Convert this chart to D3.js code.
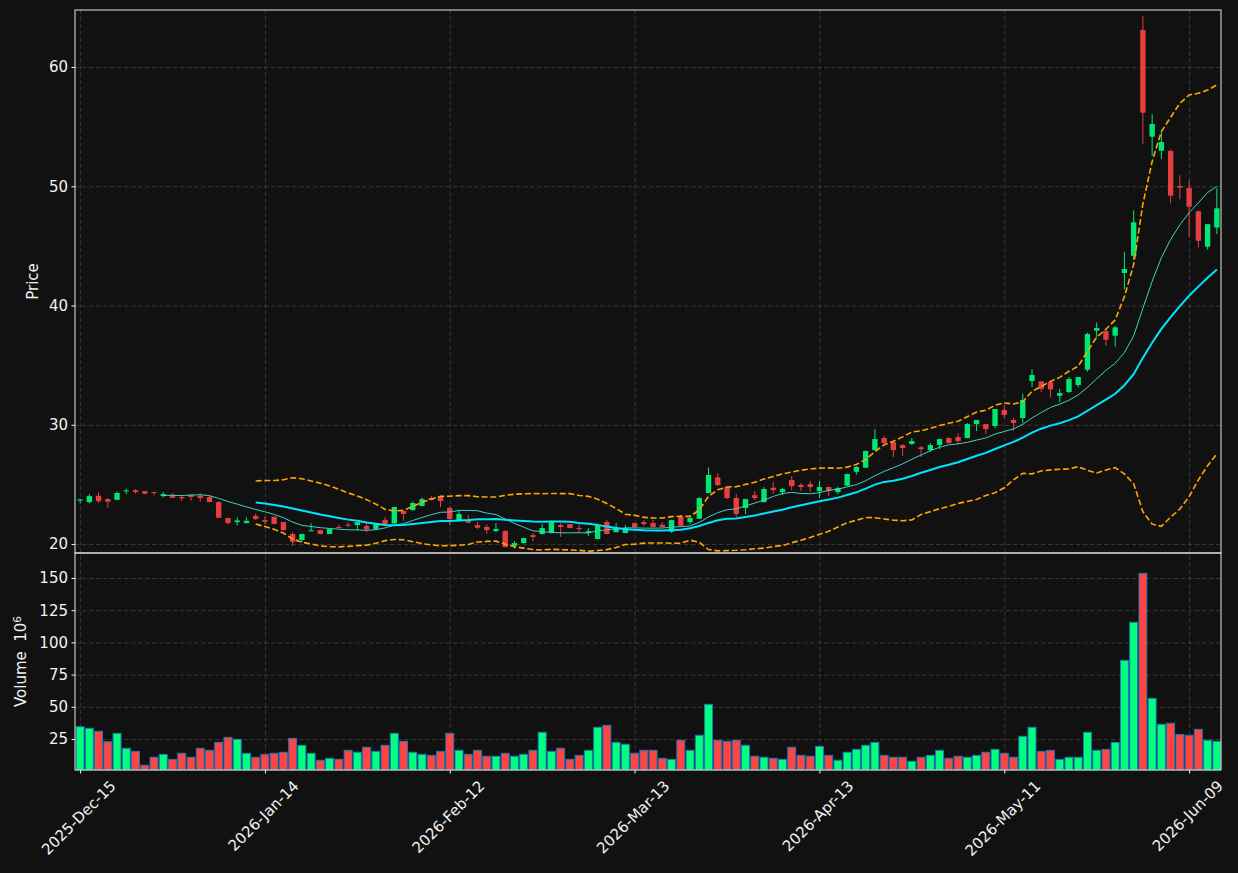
<!DOCTYPE html>
<html>
<head>
<meta charset="utf-8">
<script src="https://cdn.jsdelivr.net/npm/d3@7"></script>
<style>
  html, body { margin: 0; padding: 0; background: #111111; }
  svg { display: block; font-family: "DejaVu Sans", sans-serif; }
</style>
</head>
<body>
<svg id="chart" width="1238" height="873"></svg>
<script>
// daily bars (index 0 = 2025-Dec-15)
const opens = [23.68, 23.52, 24.05, 23.77, 23.71, 24.45, 24.52, 24.44, 24.36, 24.02, 24.13, 23.94, 24.13, 24.05, 23.94, 23.52, 22.18, 21.84, 21.76, 22.35,
  22.01, 22.29, 21.84, 20.84, 20.34, 21.1, 21.17, 20.84, 21.43, 21.62, 21.59, 21.51, 21.23, 22.01, 21.73, 22.77, 22.85, 23.19, 23.86, 24.02,
  23.02, 22.0, 22.01, 21.59, 21.43, 21.09, 21.09, 19.86, 20.08, 20.75, 20.84, 20.92, 21.59, 21.68, 21.34, 20.94, 20.42, 21.84, 21.0, 20.92,
  21.76, 21.84, 21.76, 21.62, 21.03, 22.26, 21.84, 22.12, 24.28, 25.59, 24.78, 23.86, 23.02, 24.1, 23.52, 24.72, 24.36, 25.37, 24.95, 25.03,
  24.44, 24.78, 24.36, 24.9, 26.06, 26.4, 27.88, 28.89, 28.55, 28.3, 28.39, 28.11, 27.88, 28.3, 28.89, 28.97, 28.89, 30.06, 30.06, 29.9,
  31.24, 30.4, 30.57, 33.67, 33.64, 33.58, 32.43, 32.75, 33.33, 34.62, 37.89, 37.86, 37.47, 42.73, 44.17, 63.1, 54.16, 52.98, 52.96, 50.02,
  49.85, 47.9, 44.93, 46.54]
const highs = [23.8, 24.19, 24.33, 23.86, 24.42, 24.64, 24.61, 24.46, 24.38, 24.36, 24.25, 24.1, 24.14, 24.25, 24.05, 23.6, 22.2, 22.24, 22.24, 22.54,
  22.29, 22.32, 21.86, 21.0, 20.86, 21.73, 21.2, 21.28, 21.62, 21.82, 21.86, 21.73, 21.78, 22.29, 23.12, 22.79, 23.58, 23.91, 24.05, 24.1,
  23.19, 22.85, 22.44, 21.84, 21.65, 21.76, 21.17, 20.25, 20.52, 20.92, 21.68, 21.95, 21.76, 21.7, 21.76, 21.34, 21.62, 22.01, 21.76, 21.59,
  21.78, 22.01, 22.01, 21.84, 22.03, 22.46, 22.43, 23.94, 26.43, 25.93, 24.8, 24.19, 23.79, 24.44, 24.78, 25.2, 24.7, 25.7, 25.12, 25.28,
  25.28, 24.8, 24.8, 25.9, 26.54, 27.87, 29.64, 29.06, 28.57, 28.39, 28.89, 28.22, 28.47, 28.82, 28.97, 29.3, 30.14, 30.42, 30.08, 31.34,
  31.66, 30.57, 32.58, 34.67, 33.66, 33.6, 33.02, 34.0, 34.02, 37.72, 38.59, 38.0, 38.28, 44.51, 47.98, 64.28, 56.03, 54.55, 53.1, 50.92,
  50.5, 47.99, 46.84, 49.83]
const lows = [23.42, 23.41, 23.44, 23.05, 23.69, 24.17, 24.22, 24.2, 24.1, 23.91, 23.85, 23.63, 23.63, 23.55, 23.5, 22.18, 21.62, 21.54, 21.72, 22.01,
  21.68, 21.65, 21.1, 19.83, 20.15, 21.07, 20.82, 20.82, 21.3, 21.4, 21.12, 21.0, 21.2, 21.59, 21.7, 21.95, 22.79, 23.17, 23.67, 23.08,
  21.59, 21.95, 21.76, 21.28, 20.86, 21.0, 19.73, 19.6, 20.05, 20.23, 20.82, 20.9, 20.59, 21.32, 20.92, 20.67, 20.4, 20.82, 20.98, 20.9,
  21.4, 21.51, 21.4, 21.4, 20.95, 21.5, 21.68, 22.1, 24.26, 24.86, 23.78, 22.26, 22.52, 23.69, 23.5, 24.19, 24.1, 24.53, 24.44, 24.36,
  23.86, 24.02, 24.19, 24.85, 25.81, 26.38, 27.86, 28.39, 27.3, 27.38, 28.3, 27.3, 27.72, 27.96, 28.39, 28.39, 28.87, 29.48, 29.22, 29.72,
  30.57, 29.48, 30.15, 33.17, 32.72, 32.3, 31.88, 32.66, 33.14, 34.45, 37.33, 36.63, 36.55, 41.36, 43.81, 53.52, 52.56, 52.31, 48.57, 48.9,
  45.77, 44.87, 44.7, 45.99]
const closes = [23.74, 24.02, 23.6, 23.55, 24.28, 24.5, 24.36, 24.22, 24.29, 24.19, 23.88, 23.84, 23.94, 23.86, 23.52, 22.2, 21.76, 21.98, 21.95, 22.1,
  21.87, 21.68, 21.17, 20.19, 20.84, 21.15, 20.84, 21.26, 21.37, 21.56, 21.84, 21.23, 21.76, 21.68, 23.1, 22.52, 23.44, 23.77, 23.69, 23.6,
  22.1, 22.52, 21.79, 21.37, 21.17, 21.26, 19.75, 20.08, 20.5, 20.59, 21.34, 21.93, 21.43, 21.34, 21.27, 21.09, 21.59, 20.84, 21.34, 21.34,
  21.43, 21.68, 21.43, 21.43, 22.01, 21.54, 22.18, 23.86, 25.79, 24.95, 23.86, 22.52, 23.77, 23.86, 24.61, 24.53, 24.61, 24.86, 24.78, 24.78,
  24.78, 24.44, 24.7, 25.87, 26.46, 27.8, 28.8, 28.47, 27.88, 28.05, 28.64, 27.96, 28.3, 28.8, 28.47, 28.64, 30.06, 30.4, 29.64, 31.32,
  30.82, 30.15, 32.08, 34.17, 33.0, 32.97, 32.66, 33.84, 34.0, 37.61, 38.11, 37.13, 38.17, 43.06, 46.98, 56.17, 55.22, 53.71, 49.21, 49.9,
  48.29, 45.43, 46.82, 48.15]
// volume in millions
const volumes = [34.5, 33.3, 31.0, 22.9, 29.4, 17.8, 15.4, 4.6, 10.8, 13.1, 9.2, 13.9, 10.8, 17.8, 16.2, 22.4, 26.3, 24.8, 13.9, 10.8,
  13.1, 13.9, 14.7, 25.5, 20.1, 13.9, 8.5, 10.0, 9.2, 16.2, 14.7, 18.6, 15.4, 20.1, 29.4, 23.2, 14.7, 13.1, 12.3, 15.4,
  29.4, 16.2, 13.1, 16.2, 11.6, 11.6, 13.9, 11.6, 13.1, 16.2, 30.2, 15.4, 17.8, 9.2, 12.3, 16.2, 34.1, 35.6, 22.4, 20.9,
  13.9, 16.2, 16.2, 10.0, 9.2, 24.0, 16.2, 27.9, 51.9, 24.0, 23.2, 24.0, 20.1, 11.6, 10.8, 10.0, 9.2, 18.6, 12.3, 11.6,
  19.3, 12.3, 8.5, 14.7, 17.0, 20.1, 22.4, 12.3, 10.8, 10.8, 7.7, 10.8, 12.3, 16.2, 10.0, 11.6, 10.8, 12.3, 14.7, 17.0,
  13.9, 10.8, 27.1, 34.1, 15.4, 16.2, 9.2, 10.8, 10.8, 30.2, 16.2, 17.0, 22.4, 86.1, 115.6, 153.6, 56.6, 36.4, 37.2, 28.6,
  27.9, 32.5, 24.0, 23.2]

const tickIdx = [0, 20, 40, 60, 80, 100, 120]
const tickLabels = ["2025-Dec-15", "2026-Jan-14", "2026-Feb-12", "2026-Mar-13", "2026-Apr-13", "2026-May-11", "2026-Jun-09"]
const priceTicks = [20, 30, 40, 50, 60]
const volTicks = [25, 50, 75, 100, 125, 150]

const bars = closes.map((c, i) => ({ i, o: opens[i], h: highs[i], l: lows[i], c, v: volumes[i] }))

// moving averages / bollinger (20, 2) from the closes
const rolling = (n) =>
  closes
    .map((d, i) => {
      if (i < n - 1) return null
      const win = closes.slice(i - n + 1, i + 1)
      const m = d3.mean(win)
      const sd = Math.sqrt(d3.mean(win, (v) => (v - m) ** 2))
      return { i, m, sd }
    })
    .filter(Boolean)
const ma10 = rolling(10)
const ma20 = rolling(20)

const svg = d3.select("#chart")
const left = 75, right = 1221, pTop = 10, pBot = 553, vTop = 553, vBot = 770
const UP = "#00ff7f", DOWN = "#ff4444", TXT = "#f2f2f2"
const FS = "15px"

svg.append("rect").attr("width", 1238).attr("height", 873).attr("fill", "#111111")

// scaling
const x = d3.scaleLinear().domain([-0.55, 123.45]).range([left, right])
const yP = d3.scaleLinear().domain([19.25, 64.78]).range([pBot, pTop])
const yV = d3.scaleLinear().domain([0.93, 169.4]).range([vBot, vTop])
const step = x(1) - x(0)

// grid
const gridStyle = (g) => {
  g.select(".domain").remove()
  g.selectAll("text").remove()
  g.selectAll("line").attr("stroke", "#3c3c3c").attr("stroke-width", 0.9).attr("stroke-dasharray", "4.5,2.5")
}
svg.append("g").attr("transform", `translate(${left},0)`).call(d3.axisLeft(yP).tickValues(priceTicks).tickSize(-(right - left))).call(gridStyle)
svg.append("g").attr("transform", `translate(${left},0)`).call(d3.axisLeft(yV).tickValues(volTicks).tickSize(-(right - left))).call(gridStyle)
svg.append("g").attr("transform", `translate(0,${pBot})`).call(d3.axisBottom(x).tickValues(tickIdx).tickSize(-(pBot - pTop))).call(gridStyle)
svg.append("g").attr("transform", `translate(0,${vBot})`).call(d3.axisBottom(x).tickValues(tickIdx).tickSize(-(vBot - vTop))).call(gridStyle)

// volume
svg
  .append("g")
  .selectAll("rect")
  .data(bars)
  .enter()
  .append("rect")
  .attr("x", (d) => x(d.i) - step * 0.43)
  .attr("width", step * 0.86)
  .attr("y", (d) => yV(d.v))
  .attr("height", (d) => vBot - yV(d.v))
  .attr("fill", (d) => (d.c >= d.o ? UP : DOWN))
  .attr("stroke", "#1f77b4")
  .attr("stroke-width", 1)

// candles
const candles = svg.append("g").attr("opacity", 0.9)
candles
  .selectAll("line")
  .data(bars)
  .enter()
  .append("line")
  .attr("x1", (d) => x(d.i))
  .attr("x2", (d) => x(d.i))
  .attr("y1", (d) => yP(d.h))
  .attr("y2", (d) => yP(d.l))
  .attr("stroke", (d) => (d.c >= d.o ? UP : DOWN))
  .attr("stroke-width", 1)
candles
  .selectAll("rect")
  .data(bars)
  .enter()
  .append("rect")
  .attr("x", (d) => x(d.i) - step * 0.29)
  .attr("width", step * 0.58)
  .attr("y", (d) => yP(Math.max(d.o, d.c)))
  .attr("height", (d) => Math.max(1, Math.abs(yP(d.o) - yP(d.c))))
  .attr("fill", (d) => (d.c >= d.o ? UP : DOWN))

// lines
const line = (f) => d3.line().x((d) => x(d.i)).y((d) => yP(f(d)))
svg.append("path").datum(ma20).attr("fill", "none").attr("stroke", "#ffa500").attr("stroke-width", 1.6).attr("stroke-dasharray", "6,2.7").attr("d", line((d) => d.m + 2 * d.sd))
svg.append("path").datum(ma20).attr("fill", "none").attr("stroke", "#ffa500").attr("stroke-width", 1.6).attr("stroke-dasharray", "6,2.7").attr("d", line((d) => d.m - 2 * d.sd))
svg.append("path").datum(ma10).attr("fill", "none").attr("stroke", "#40d0c8").attr("stroke-width", 1).attr("d", line((d) => d.m))
svg.append("path").datum(ma20).attr("fill", "none").attr("stroke", "#00e5ff").attr("stroke-width", 2).attr("d", line((d) => d.m))

// axis
const axisStyle = (g) => {
  g.select(".domain").remove()
  g.selectAll("line").attr("stroke", TXT)
  g.selectAll("text").attr("fill", TXT).style("font-size", FS).style("font-family", "DejaVu Sans")
}
svg.append("g").attr("transform", `translate(${left},0)`).call(d3.axisLeft(yP).tickValues(priceTicks).tickSize(3.5).tickPadding(3.5)).call(axisStyle)
svg.append("g").attr("transform", `translate(${left},0)`).call(d3.axisLeft(yV).tickValues(volTicks).tickSize(3.5).tickPadding(3.5)).call(axisStyle)

const xAxis = svg.append("g").attr("transform", `translate(0,${vBot})`).call(d3.axisBottom(x).tickValues(tickIdx).tickSize(3.5).tickFormat((d, k) => tickLabels[k])).call(axisStyle)
xAxis.selectAll("text").each(function () {
  const t = d3.select(this)
  const w = this.getComputedTextLength()
  const cy = 8 + ((w + 15) * Math.SQRT1_2) / 2
  t.attr("y", 0).attr("dy", "0.35em").attr("text-anchor", "middle").attr("transform", `translate(-2,${cy}) rotate(-45)`)
})

// frames
svg.append("rect").attr("x", left).attr("y", pTop).attr("width", right - left).attr("height", pBot - pTop).attr("fill", "none").attr("stroke", "#e6e6e6").attr("stroke-width", 1)
svg.append("rect").attr("x", left).attr("y", vTop).attr("width", right - left).attr("height", vBot - vTop).attr("fill", "none").attr("stroke", "#e6e6e6").attr("stroke-width", 1)

// labels
svg.append("text").attr("transform", `translate(38,${(pTop + pBot) / 2}) rotate(-90)`).attr("text-anchor", "middle").attr("fill", TXT).style("font-size", FS).text("Price")
const vl = svg.append("text").attr("transform", `translate(26,${(vTop + vBot) / 2}) rotate(-90)`).attr("text-anchor", "middle").attr("fill", TXT).style("font-size", FS)
vl.append("tspan").text("Volume\u00a0\u00a010")
vl.append("tspan").attr("dy", "-0.45em").style("font-size", "10.5px").text("6")
</script>
</body>
</html>
